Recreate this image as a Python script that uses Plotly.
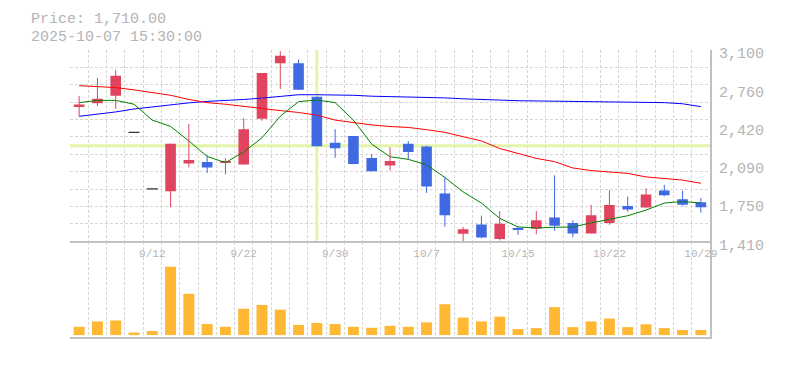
import plotly.graph_objects as go

# ---------------- data ----------------
dates = ["9/8", "9/9", "9/10", "9/11", "9/12", "9/16", "9/17", "9/18", "9/19", "9/22",
         "9/24", "9/25", "9/26", "9/29", "9/30", "10/1", "10/2", "10/3", "10/6", "10/7",
         "10/8", "10/9", "10/10", "10/14", "10/15", "10/16", "10/17", "10/20", "10/21", "10/22",
         "10/23", "10/24", "10/27", "10/28", "10/29"]

open_ = [2596, 2629, 2697, 2373, 1873, 1852, 2097, 2111, 2105, 2089,
         2492, 2984, 2982, 2686, 2280, 2340, 2145, 2080, 2272, 2247,
         1832, 1478, 1559, 1430, 1520, 1522, 1621, 1571, 1480, 1573,
         1723, 1708, 1858, 1782, 1756]
high = [2694, 2855, 2923, 2373, 1873, 2273, 2447, 2170, 2145, 2500,
        2897, 3090, 3015, 2690, 2401, 2340, 2179, 2241, 2295, 2255,
        1982, 1537, 1636, 1678, 1545, 1678, 1993, 1596, 1731, 1861,
        1805, 1877, 1909, 1858, 1793]
low = [2514, 2604, 2579, 2373, 1873, 1712, 2063, 2013, 2002, 2089,
       2475, 2756, 2748, 2249, 2148, 2090, 2029, 2035, 2134, 1838,
       1539, 1410, 1438, 1418, 1467, 1472, 1503, 1446, 1480, 1556,
       1672, 1708, 1808, 1725, 1664]
close = [2618, 2669, 2873, 2373, 1873, 2273, 2128, 2063, 2117, 2399,
         2897, 3049, 2748, 2249, 2232, 2094, 2029, 2120, 2199, 1894,
         1641, 1517, 1444, 1565, 1514, 1596, 1548, 1480, 1641, 1731,
         1692, 1824, 1816, 1734, 1710]

ma_short = [2635, 2655, 2655, 2621, 2481, 2425, 2297, 2160, 2105, 2199,
            2325, 2515, 2644, 2658, 2635, 2481, 2269, 2157, 2134, 2086,
            1974, 1847, 1748, 1613, 1537, 1528, 1534, 1537, 1573, 1607,
            1636, 1686, 1748, 1762, 1748]
ma_mid = [2785, 2779, 2768, 2748, 2726, 2700, 2663, 2635, 2621, 2601,
          2582, 2565, 2548, 2525, 2481, 2458, 2438, 2424, 2416, 2396,
          2373, 2334, 2297, 2230, 2185, 2143, 2114, 2058, 2035, 2024,
          2010, 1979, 1968, 1951, 1923]
ma_long = [2514, 2531, 2553, 2579, 2599, 2616, 2633, 2646, 2652, 2663,
           2675, 2692, 2705, 2705, 2705, 2700, 2692, 2689, 2686, 2683,
           2677, 2669, 2663, 2655, 2652, 2650, 2648, 2646, 2646, 2645,
           2643, 2640, 2635, 2625, 2600]

volume = [260, 430, 460, 80, 130, 2150, 1300, 350, 260, 830,
          950, 800, 320, 380, 350, 260, 230, 290, 260, 400,
          970, 550, 430, 580, 190, 220, 880, 250, 430, 520,
          250, 340, 220, 160, 160]

tick_idx = [4, 9, 14, 19, 24, 29, 34]
price_tickvals = [1410, 1748, 2086, 2424, 2762, 3100]
price_ticktext = ["1,410", "1,750", "2,090", "2,420", "2,760", "3,100"]

last_price_text = "Price: 1,710.00"
time_text = "2025-10-07 15:30:00"
cross_idx = 13
cross_price = 2255

# ---------------- styles ----------------
UP = "#e0445e"
DOWN = "#4169e1"
VOLC = "#ffb833"
GRID = "#d6d6d6"
AXIS = "#c0c0c0"
TXT = "#b4b4b4"
CROSS = "#e3f5aa"
FONT = "Liberation Mono"

n = len(dates)
x = list(range(n))

fig = go.Figure()

# moving averages (below candles)
for ser, col in [(ma_long, "#0000ff"), (ma_mid, "#ff0000"), (ma_short, "#008000")]:
    fig.add_trace(go.Scatter(x=x, y=ser, mode="lines", line=dict(color=col, width=1),
                             xaxis="x", yaxis="y", hoverinfo="skip", showlegend=False))

# wicks
for col, cond in [(UP, lambda o, c: c > o), (DOWN, lambda o, c: c < o)]:
    wx, wy = [], []
    for i in x:
        if cond(open_[i], close[i]):
            wx += [i, i, None]
            wy += [low[i], high[i], None]
    fig.add_trace(go.Scatter(x=wx, y=wy, mode="lines", line=dict(color=col, width=1),
                             xaxis="x", yaxis="y", hoverinfo="skip", showlegend=False))

# bodies
bx, bbase, bh, bcol = [], [], [], []
for i in x:
    if open_[i] != close[i]:
        bx.append(i)
        bbase.append(min(open_[i], close[i]))
        bh.append(abs(close[i] - open_[i]))
        bcol.append(UP if close[i] > open_[i] else DOWN)
fig.add_trace(go.Bar(x=bx, y=bh, base=bbase, width=0.58, marker=dict(color=bcol, line=dict(width=0)),
                     xaxis="x", yaxis="y", hoverinfo="skip", showlegend=False))

# single-price days (doji)
dx, dy = [], []
for i in x:
    if open_[i] == close[i]:
        dx += [i - 0.3, i + 0.3, None]
        dy += [close[i], close[i], None]
fig.add_trace(go.Scatter(x=dx, y=dy, mode="lines", line=dict(color="#000000", width=1),
                         xaxis="x", yaxis="y", hoverinfo="skip", showlegend=False))

# volume
fig.add_trace(go.Bar(x=x, y=volume, width=0.6, marker=dict(color=VOLC, line=dict(width=0)),
                     xaxis="x2", yaxis="y2", hoverinfo="skip", showlegend=False))

minor_x = dict(tick0=-0.5, dtick=1, showgrid=True, gridcolor=GRID, griddash="3px,2px", gridwidth=1, ticks="")

# page body has an 8px margin -> figure sized to fit the window and shifted to compensate
fig.update_layout(
    width=769, height=354,
    margin=dict(l=62, r=67, t=42, b=12),
    paper_bgcolor="white", plot_bgcolor="white",
    barmode="overlay",
    showlegend=False,
    xaxis=dict(domain=[0, 1], anchor="y", range=[-0.5, n - 0.5],
               tickvals=tick_idx, ticktext=[dates[i] for i in tick_idx],
               showgrid=False, zeroline=False, ticks="",
               tickfont=dict(family=FONT, size=11, color=TXT),
               showline=True, linecolor=AXIS, linewidth=2,
               minor=minor_x),
    yaxis=dict(domain=[1 / 3, 1], anchor="x", side="right", range=[1410, 3100],
               tickvals=price_tickvals, ticktext=price_ticktext,
               showgrid=False, zeroline=False, ticks="",
               tickfont=dict(family=FONT, size=15, color=TXT),
               ticklabelstandoff=4, ticklabelshift=3,
               showline=True, linecolor=AXIS, linewidth=2,
               minor=dict(tick0=1410, dtick=(3100 - 1410) / 11, showgrid=True, gridcolor=GRID,
                          griddash="3px,2px", gridwidth=1, ticks="")),
    xaxis2=dict(domain=[0, 1], anchor="y2", matches="x", range=[-0.5, n - 0.5],
                showticklabels=False, showgrid=False, zeroline=False, ticks="",
                showline=True, linecolor=AXIS, linewidth=2,
                minor=minor_x),
    yaxis2=dict(domain=[0, 1 / 3 - 0.001], anchor="x2", side="right", range=[-60, 2940],
                showticklabels=False, showgrid=False, zeroline=False, ticks="",
                showline=True, linecolor=AXIS, linewidth=2),
    shapes=[
        dict(type="line", xref="x", yref="y", x0=cross_idx, x1=cross_idx, y0=1410, y1=3100,
             line=dict(color=CROSS, width=3), layer="between"),
        dict(type="line", xref="x", yref="y", x0=-0.5, x1=n - 0.5, y0=cross_price, y1=cross_price,
             line=dict(color=CROSS, width=3), layer="between"),
    ],
    annotations=[
        dict(text=last_price_text, xref="paper", yref="paper", x=-41 / 640, y=1 + 31.5 / 300,
             xanchor="left", yanchor="middle", showarrow=False,
             font=dict(family=FONT, size=15, color=TXT)),
        dict(text=time_text, xref="paper", yref="paper", x=-41 / 640, y=1 + 13.5 / 300,
             xanchor="left", yanchor="middle", showarrow=False,
             font=dict(family=FONT, size=15, color=TXT)),
    ],
)

fig.write_html("out.html")
